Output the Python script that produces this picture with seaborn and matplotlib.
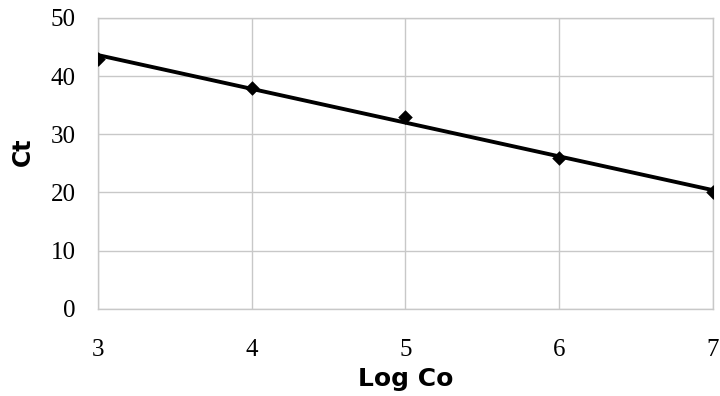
import matplotlib
matplotlib.use('Agg')
import matplotlib.pyplot as plt
import seaborn as sns
import pandas as pd

# Ct values against log of starting copy number
log_co = [3, 4, 5, 6, 7]
ct = [43, 38, 33, 26, 20]

df = pd.DataFrame({'Log Co': log_co, 'Ct': ct})

sns.set_style('white')

fig = plt.figure(figsize=(7.2, 3.96), dpi=100)
ax = fig.add_axes([0.136, 0.22, 0.854, 0.735])

sns.regplot(data=df, x='Log Co', y='Ct', ax=ax, ci=None,
            marker='D', color='black',
            scatter_kws={'s': 55, 'alpha': 1, 'linewidths': 0, 'zorder': 4},
            line_kws={'linewidth': 2.8, 'zorder': 3})

ax.set_xlim(3, 7)
ax.set_ylim(0, 50)
ax.set_xticks([3, 4, 5, 6, 7])
ax.set_yticks([0, 10, 20, 30, 40, 50])
ax.grid(True, color='#c8c8c8', linewidth=1)
for s in ax.spines.values():
    s.set_color('#c8c8c8')
    s.set_linewidth(1)

ax.tick_params(axis='both', length=0, labelsize=18, labelcolor='black')
ax.tick_params(axis='x', pad=22)
ax.tick_params(axis='y', pad=16)
for lab in ax.get_xticklabels() + ax.get_yticklabels():
    lab.set_fontfamily('Liberation Serif')

ax.set_xlabel('Log Co', fontsize=18, fontweight='bold', family='DejaVu Sans',
              color='black', labelpad=4)
ax.set_ylabel('Ct', fontsize=17, fontweight='bold', family='DejaVu Sans', color='black')
ax.yaxis.set_label_coords(-0.103, 0.54)

fig.savefig('out.png', dpi=100)
